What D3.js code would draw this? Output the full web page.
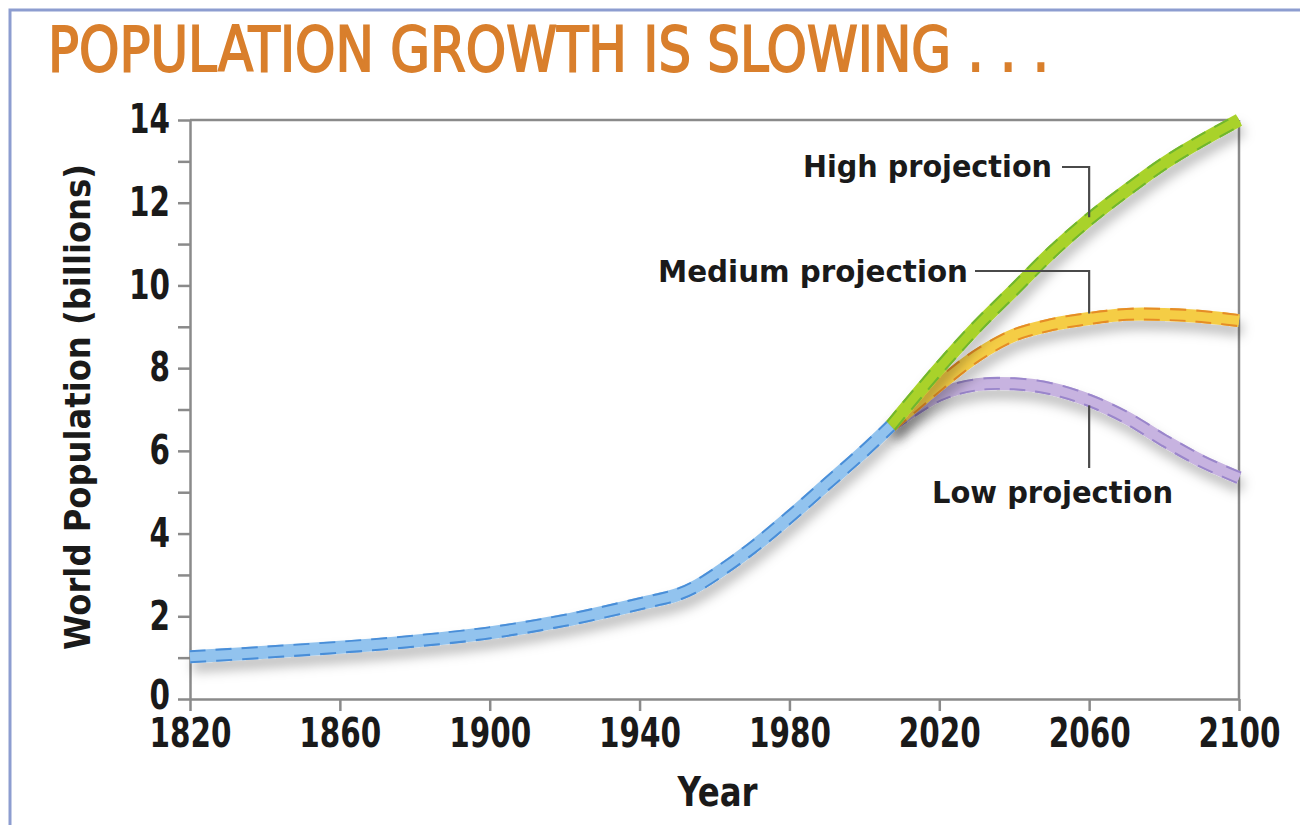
<!DOCTYPE html>
<html>
<head>
<meta charset="utf-8">
<script src="https://cdn.jsdelivr.net/npm/d3@7"></script>
<style>
  html, body { margin: 0; padding: 0; background: #fff; }
  svg { display: block; }
  .lbl { font-family: "DejaVu Sans Condensed", "Liberation Sans Narrow", sans-serif; font-weight: bold; fill: #1a1a1a; }
</style>
</head>
<body>
<svg id="chart" width="1300" height="825"></svg>
<script>
// ---- data ----
const histYears   = [1820, 1840, 1860, 1880, 1900, 1920, 1940, 1950, 1955, 1960, 1970, 1980, 1990, 2000, 2007];
const histValues  = [1.02, 1.13, 1.25, 1.4, 1.6, 1.9, 2.3, 2.52, 2.72, 3.0, 3.65, 4.4, 5.2, 6.0, 6.6];
const projYears   = [2007, 2020, 2030, 2040, 2050, 2060, 2070, 2080, 2090, 2100];
const highValues  = [6.6, 8.0, 9.0, 9.9, 10.8, 11.6, 12.3, 12.95, 13.5, 14.0];
const mediumValues= [6.6, 7.6, 8.3, 8.8, 9.05, 9.2, 9.3, 9.3, 9.25, 9.15];
const lowValues   = [6.6, 7.35, 7.6, 7.62, 7.5, 7.22, 6.8, 6.25, 5.75, 5.35];
const xTicks      = [1820, 1860, 1900, 1940, 1980, 2020, 2060, 2100];
const yTicks      = [0, 1, 2, 3, 4, 5, 6, 7, 8, 9, 10, 11, 12, 13, 14];
const titleText   = "POPULATION GROWTH IS SLOWING . . .";
const xTitle      = "Year";
const yTitle      = "World Population (billions)";
const seriesNames = ["High projection", "Medium projection", "Low projection"];

// ---- layout ----
const svg = d3.select("#chart");
const mLeft = 190, mRight = 1239, mTop = 120, mBottom = 699;
const x = d3.scaleLinear().domain([1820, 2100]).range([mLeft, mRight]);
const y = d3.scaleLinear().domain([0, 14]).range([mBottom, mTop]);

// outer frame (blue-gray)
svg.append("path").attr("d", `M10,825 L10,10 L1300,10`)
  .attr("fill", "none").attr("stroke", "#8d9dd0").attr("stroke-width", 3);

// title
svg.append("text").attr("x", 48).attr("y", 71)
  .attr("textLength", 1001).attr("lengthAdjust", "spacingAndGlyphs")
  .style("font-family", '"DejaVu Sans Condensed", sans-serif')
  .style("font-weight", "normal").style("font-size", "62px").style("fill", "#d97f2c")
  .style("stroke", "#d97f2c").style("stroke-width", 1.8)
  .text(titleText);

// shadow filter
const defs = svg.append("defs");
const f = defs.append("filter").attr("id", "shadow").attr("x", "-10%").attr("y", "-20%").attr("width", "120%").attr("height", "160%");
f.append("feDropShadow").attr("dx", 3).attr("dy", 9).attr("stdDeviation", 6)
  .attr("flood-color", "#000").attr("flood-opacity", 0.26);

// frame lines (top & right)
svg.append("line").attr("x1", x(1820)).attr("x2", x(2100)).attr("y1", y(14)).attr("y2", y(14))
  .attr("stroke", "#8a8a8a").attr("stroke-width", 2.5);
svg.append("line").attr("x1", x(2100)).attr("x2", x(2100)).attr("y1", y(14)).attr("y2", y(0))
  .attr("stroke", "#8a8a8a").attr("stroke-width", 2.5);

// axes
const yAxis = svg.append("g").attr("transform", `translate(${mLeft},0)`)
  .call(d3.axisLeft(y).tickValues(yTicks).tickSize(12).tickSizeOuter(0).tickPadding(8)
    .tickFormat(d => d % 2 === 0 ? d : ""));
const xAxis = svg.append("g").attr("transform", `translate(0,${mBottom})`)
  .call(d3.axisBottom(x).tickValues(xTicks).tickSize(12).tickSizeOuter(0).tickPadding(8)
    .tickFormat(d3.format("d")));
[yAxis, xAxis].forEach(g => {
  g.select(".domain").attr("stroke", "#8a8a8a").attr("stroke-width", 2.5);
  g.selectAll(".tick line").attr("stroke", "#8a8a8a").attr("stroke-width", 2.5);
  g.selectAll(".tick text").attr("class", "lbl").style("font-size", "40px").attr("fill", "#1a1a1a")
    .each(function() {
      const n = this.textContent.length;
      if (n) d3.select(this).attr("textLength", n * 20.5).attr("lengthAdjust", "spacingAndGlyphs");
    });
});
// the "0" label sits a touch higher in the reference
yAxis.selectAll(".tick").filter(d => d === 0).select("text").attr("y", -3);

// axis titles
svg.append("text").attr("class", "lbl").attr("x", (mLeft + mRight) / 2 + 3).attr("y", 806)
  .attr("text-anchor", "middle").attr("textLength", 80).attr("lengthAdjust", "spacingAndGlyphs")
  .style("font-size", "41px").text(xTitle);
svg.append("text").attr("class", "lbl")
  .attr("transform", `translate(90,407) rotate(-90)`)
  .attr("text-anchor", "middle").attr("textLength", 486).attr("lengthAdjust", "spacingAndGlyphs")
  .style("font-size", "36px").text(yTitle);

// lines
const line = d3.line().x(d => x(d[0])).y(d => y(d[1])).curve(d3.curveCatmullRom.alpha(0.5));
const series = [
  { key: "low",    yrs: projYears, vals: lowValues,    fill: "#c7b3e0", edge: "#9a86cb" },
  { key: "medium", yrs: projYears, vals: mediumValues, fill: "#f5cd45", edge: "#e58c28" },
  { key: "high",   yrs: projYears, vals: highValues,   fill: "#a9d22c", edge: "#6fb62e" },
  { key: "hist",   yrs: histYears, vals: histValues,   fill: "#92c3ee", edge: "#4a8ed8" }
];
series.forEach(s => {
  const pts = s.yrs.map((yr, i) => [yr, s.vals[i]]);
  const g = svg.append("g").attr("filter", "url(#shadow)");
  g.append("path").attr("d", line(pts)).attr("fill", "none")
    .attr("stroke", s.fill).attr("stroke-width", 13).attr("stroke-linecap", "butt");
  g.append("path").attr("d", line(pts)).attr("fill", "none")
    .attr("stroke", s.edge).attr("stroke-width", 13).attr("stroke-dasharray", "16 10")
    .attr("stroke-linecap", "butt");
  g.append("path").attr("d", line(pts)).attr("fill", "none")
    .attr("stroke", s.fill).attr("stroke-width", 9).attr("stroke-linecap", "butt");
});

// labels with leader lines
function leader(pts) {
  svg.append("path").attr("d", d3.line()(pts)).attr("fill", "none")
    .attr("stroke", "#4a4a4a").attr("stroke-width", 2.2);
}
const interp = (yrs, vals, yr) => d3.scaleLinear().domain(yrs).range(vals)(yr);
const lx = x(2060);
// High
svg.append("text").attr("class", "lbl").attr("x", 803).attr("y", 177)
  .attr("textLength", 249).attr("lengthAdjust", "spacingAndGlyphs").style("font-size", "31px").text(seriesNames[0]);
leader([[1062, 167], [lx, 167], [lx, y(interp(projYears, highValues, 2060)) - 2]]);
// Medium
svg.append("text").attr("class", "lbl").attr("x", 658).attr("y", 282)
  .attr("textLength", 310).attr("lengthAdjust", "spacingAndGlyphs").style("font-size", "31px").text(seriesNames[1]);
leader([[975, 271], [lx, 271], [lx, y(interp(projYears, mediumValues, 2060)) - 5]]);
// Low
svg.append("text").attr("class", "lbl").attr("x", 932).attr("y", 503)
  .attr("textLength", 241).attr("lengthAdjust", "spacingAndGlyphs").style("font-size", "31px").text(seriesNames[2]);
leader([[lx, y(interp(projYears, lowValues, 2060)) + 5], [lx, 468]]);
</script>
</body>
</html>
